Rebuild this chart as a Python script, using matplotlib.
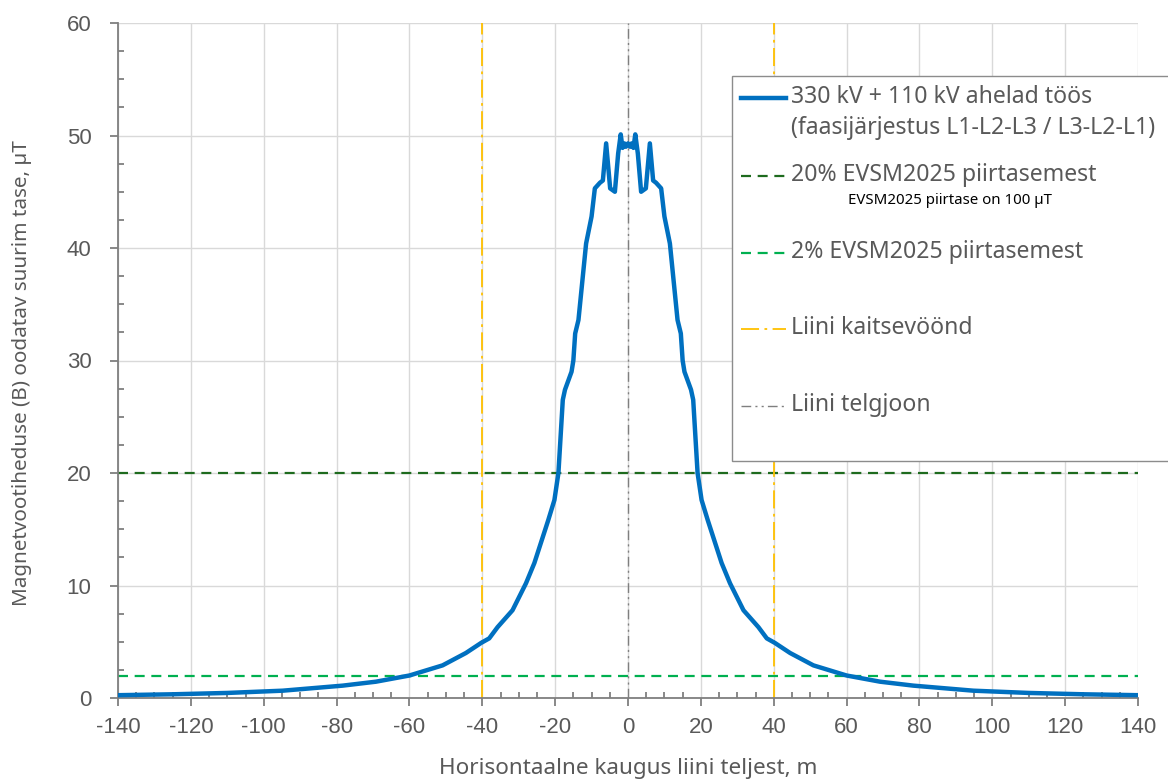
import matplotlib.pyplot as plt
from matplotlib.lines import Line2D
from matplotlib.patches import Rectangle
from matplotlib.ticker import MultipleLocator

plt.rcParams["axes.unicode_minus"] = False

# distance from line axis, m
dist_m = [-140, -125, -110, -94.8, -78.3, -69.2, -60.0, -50.9, -44.5, -40.3,
          -38.1, -35.8, -31.7, -28.0, -25.7, -23.4, -21.9, -20.2, -19.1,
          -17.9, -17.3, -15.5, -15.0, -14.5, -13.6, -11.5, -10.0, -9.1, -7.7,
          -6.9, -6.0, -4.9, -3.6, -2.7, -2.0, -1.5, -1.0, -0.6, 0.0,
          0.6, 1.0, 1.5, 2.0, 2.7, 3.6, 4.9, 6.0, 6.9, 7.7, 9.1, 10.0, 11.5,
          13.6, 14.5, 15.0, 15.5, 17.3, 17.9, 19.1, 20.2, 21.9, 23.4, 25.7,
          28.0, 31.7, 35.8, 38.1, 40.3, 44.5, 50.9, 60.0, 69.2, 78.3, 94.8,
          110, 125, 140]
# magnetic flux density, uT
flux_ut = [0.25, 0.33, 0.45, 0.65, 1.1, 1.45, 2.0, 2.9, 4.0, 4.9,
           5.3, 6.3, 7.8, 10.2, 12.0, 14.3, 15.8, 17.6, 20.0,
           26.5, 27.4, 29.0, 30.0, 32.4, 33.6, 40.4, 42.8, 45.3, 45.8,
           46.0, 49.3, 45.3, 45.0, 48.4, 50.1, 48.9, 49.3, 49.0, 49.3,
           49.0, 49.3, 48.9, 50.1, 48.4, 45.0, 45.3, 49.3, 46.0, 45.8, 45.3, 42.8, 40.4,
           33.6, 32.4, 30.0, 29.0, 27.4, 26.5, 20.0, 17.6, 15.8, 14.3, 12.0,
           10.2, 7.8, 6.3, 5.3, 4.9, 4.0, 2.9, 2.0, 1.45, 1.1, 0.65,
           0.45, 0.33, 0.25]

limit_20 = 20      # 20% of 100 uT
limit_2 = 2        # 2% of 100 uT
protect_zone = [-40, 40]
centre_line = 0

labels = [
    "330 kV + 110 kV ahelad töös\n(faasijärjestus L1-L2-L3 / L3-L2-L1)",
    "20% EVSM2025 piirtasemest",
    "2% EVSM2025 piirtasemest",
    "Liini kaitsevöönd",
    "Liini telgjoon",
]
note = "EVSM2025 piirtase on 100 µT"

BLUE = "#0070C0"
DKGREEN = "#1E6B1E"
GREEN = "#00B050"
YELLOW = "#FFC000"
GREY = "#7F7F7F"
TXT = "#595959"

W, H = 1168, 782
fig = plt.figure(figsize=(W / 100, H / 100), dpi=100)
ax = fig.add_axes([118 / W, 1 - 698 / H, (1138 - 118) / W, (698 - 23) / H])


def px(x, y):
    return x / W, 1 - y / H


ax.grid(True, color="#D9D9D9", lw=1.0, zorder=0)
ax.set_axisbelow(True)

ax.axhline(limit_20, color=DKGREEN, lw=1.6, dashes=(4.5, 3), zorder=2)
ax.axhline(limit_2, color=GREEN, lw=1.6, dashes=(4.5, 3), zorder=2)
for xv in protect_zone:
    ax.axvline(xv, color=YELLOW, lw=1.3, dashes=(10, 3, 1.5, 3), zorder=2)
ax.axvline(centre_line, color=GREY, lw=1.0, dashes=(7, 3, 1.5, 3, 1.5, 3), zorder=2)

ax.plot(dist_m, flux_ut, color=BLUE, lw=3.2, zorder=3, solid_joinstyle="round")

ax.set_xlim(-140, 140)
ax.set_ylim(0, 60)
ax.xaxis.set_major_locator(MultipleLocator(20))
ax.xaxis.set_minor_locator(MultipleLocator(5))
ax.yaxis.set_major_locator(MultipleLocator(10))
ax.yaxis.set_minor_locator(MultipleLocator(2.5))
ax.tick_params(which="major", direction="out", length=6, width=1.3, color=GREY,
               labelcolor=TXT, labelsize=16)
ax.tick_params(axis="x", which="major", pad=8)
ax.tick_params(axis="y", which="major", pad=13)
ax.tick_params(which="minor", direction="in", length=4, width=1.3, color=GREY)
for lab in ax.get_xticklabels() + ax.get_yticklabels():
    lab.set_family("Liberation Sans")
for s in ["top", "right"]:
    ax.spines[s].set_visible(False)
for s in ["left", "bottom"]:
    ax.spines[s].set_color(GREY)
    ax.spines[s].set_linewidth(1.3)

ax.set_xlabel("Horisontaalne kaugus liini teljest, m", family="Noto Sans",
              fontsize=16.2, color=TXT, labelpad=14)
ax.set_ylabel("Magnetvootiheduse (B) oodatav suurim tase, µT", family="Noto Sans",
              fontsize=14.9, color=TXT, va="center")
ax.yaxis.set_label_coords(-0.094, 0.481)

# legend box drawn by hand (extends past the plot area like the original)
x0, y0 = px(732, 461)
box = Rectangle((x0, y0), 1.2 - x0, (461 - 76) / H, transform=fig.transFigure,
                facecolor="white", edgecolor="#8C8C8C", lw=1.0, zorder=10)
fig.add_artist(box)

handles = [
    dict(color=BLUE, lw=3.2, ls="-"),
    dict(color=DKGREEN, lw=1.6, dashes=(4.5, 3)),
    dict(color=GREEN, lw=1.6, dashes=(4.5, 3)),
    dict(color=YELLOW, lw=1.3, dashes=(10, 3, 1.5, 3)),
    dict(color=GREY, lw=1.0, dashes=(7, 3, 1.5, 3, 1.5, 3)),
]
rows = [98, 176, 253, 329, 406]
for kw, lab, yr in zip(handles, labels, rows):
    xa, ya = px(741, yr)
    xb, _ = px(786, yr)
    fig.add_artist(Line2D([xa, xb], [ya, ya], transform=fig.transFigure,
                          zorder=11, **kw))
    tx, ty = px(791, yr - 13)
    fig.text(tx, ty, lab, ha="left", va="top", fontsize=16.6, color=TXT,
             family="Noto Sans", linespacing=1.4, zorder=12)

nx, ny = px(950, 200)
fig.text(nx, ny, note, ha="center", va="center", fontsize=10.8, color="black",
         family="Noto Sans", zorder=12)

fig.savefig("out.png", dpi=100)
